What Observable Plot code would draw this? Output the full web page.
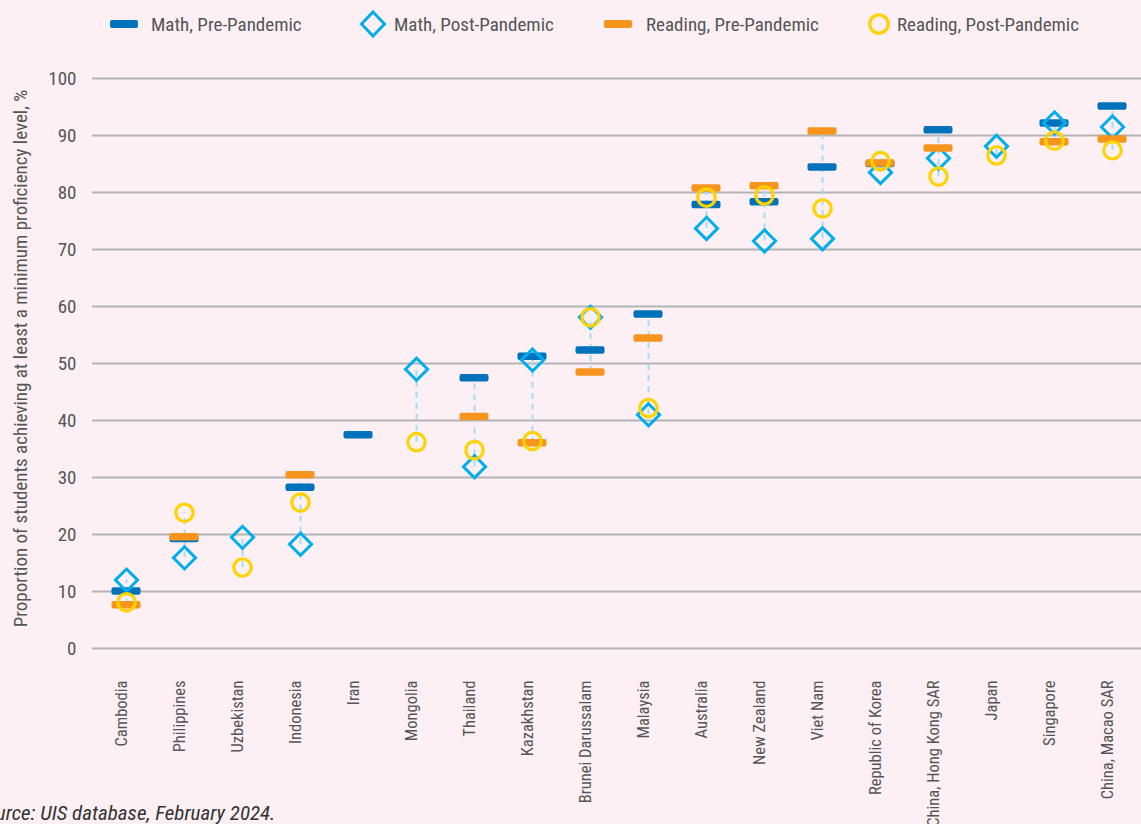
<!DOCTYPE html>
<html><head><meta charset="utf-8">
<script src="https://cdn.jsdelivr.net/npm/d3@7"></script>
<script src="https://cdn.jsdelivr.net/npm/@observablehq/plot@0.6"></script>
<style>
html,body{margin:0;padding:0;background:#fcf0f4;overflow:hidden;}
body{width:1141px;height:824px;position:relative;font-family:"Roboto Condensed",Roboto,sans-serif;font-stretch:condensed;}
.item{position:absolute;top:10px;height:28px;font-size:19px;color:#555;display:flex;align-items:center;white-space:nowrap;}
#chart{position:absolute;top:60px;left:0;}
#chart svg, #chart svg text{font-family:"Roboto Condensed",Roboto,sans-serif;font-stretch:condensed;}
#caption{position:absolute;left:-25px;top:803px;font-style:italic;font-size:21px;line-height:21px;color:#333;white-space:nowrap;}
</style></head>
<body>
<div id="legend"></div>
<div id="chart"></div>
<div id="caption">Source: UIS database, February 2024.</div>
<script>
const countries = ["Cambodia","Philippines","Uzbekistan","Indonesia","Iran","Mongolia","Thailand","Kazakhstan","Brunei Darussalam","Malaysia","Australia","New Zealand","Viet Nam","Republic of Korea","China, Hong Kong SAR","Japan","Singapore","China, Macao SAR"];
const mathPre  = [10.0, 19.2, null, 28.2, 37.4, null, 47.4, 51.2, 52.3, 58.6, 77.8, 78.3, 84.4, 85.0, 90.9, null, 92.1, 95.1];
const mathPost = [12.0, 15.9, 19.5, 18.3, null, 49.0, 31.9, 50.6, 58.1, 41.0, 73.7, 71.5, 71.9, 83.5, 86.0, 88.1, 92.2, 91.5];
const readPre  = [7.6, 19.5, null, 30.4, null, null, 40.6, 36.0, 48.4, 54.4, 80.7, 81.1, 90.7, 85.1, 87.7, null, 88.8, 89.3];
const readPost = [8.1, 23.8, 14.2, 25.6, null, 36.2, 34.8, 36.4, 58.1, 42.2, 79.1, 79.5, 77.2, 85.5, 82.8, 86.5, 89.1, 87.4];
const yTicks = [0,10,20,30,40,50,60,70,80,90,100];
const yTitle = "Proportion of students achieving at least a minimum proficiency level, %";
const seriesNames = ["Math, Pre-Pandemic","Math, Post-Pandemic","Reading, Pre-Pandemic","Reading, Post-Pandemic"];

const C = {mathPre:"#0072bc", mathPost:"#00aeef", readPre:"#f7941d", readPost:"#ffd200", dash:"#a6dcf5", grid:"#b3b3b3", text:"#555"};
const FONT = '"Roboto Condensed",Roboto,sans-serif';

const rows = arr => countries.map((c,i)=>({country:c, value:arr[i]})).filter(d=>d.value!=null);
const ranges = countries.map((c,i)=>{
  const v=[mathPre[i],mathPost[i],readPre[i],readPost[i]].filter(x=>x!=null);
  return {country:c, lo:d3.min(v), hi:d3.max(v)};
}).filter(d=>d.hi>d.lo);

const barOpts = {x:"country", y1:"value", y2:"value", insetTop:-3.75, insetBottom:-3.75, insetLeft:14.5, insetRight:14.5, rx:2};

const plot = Plot.plot({
  width:1141, height:764, marginTop:18, marginBottom:176, marginLeft:92, marginRight:-5,
  style:{background:"transparent", fontFamily:FONT, overflow:"visible"},
  x:{domain:countries, padding:0, axis:null},
  y:{domain:[0,100], axis:null},
  marks:[
    Plot.gridY(yTicks,{stroke:C.grid, strokeOpacity:1, strokeWidth:2}),
    Plot.axisY(yTicks,{tickSize:0, tickPadding:16, fontSize:19, fill:C.text, label:null}),
    Plot.text([yTitle],{frameAnchor:"left", textAnchor:"middle", dx:-72, dy:-5, rotate:-90, fontSize:19, fill:C.text}),
    Plot.text(countries,{x:d=>d, frameAnchor:"bottom", dy:32, rotate:-90, textAnchor:"end", fontSize:16.5, fill:C.text}),
    Plot.ruleX(ranges,{x:"country", y1:"lo", y2:"hi", stroke:C.dash, strokeWidth:2, strokeDasharray:"6,5"}),
    Plot.barY(rows(mathPre),{...barOpts, fill:C.mathPre}),
    Plot.dot(rows(mathPost),{x:"country", y:"value", symbol:"diamond2", r:10, stroke:C.mathPost, strokeWidth:3, fill:"none"}),
    Plot.barY(rows(readPre),{...barOpts, fill:C.readPre}),
    Plot.dot(rows(readPost),{x:"country", y:"value", symbol:"circle", r:8.7, stroke:C.readPost, strokeWidth:3.2, fill:"none"})
  ]
});
document.getElementById("chart").appendChild(plot);

// legend
const legendPos = [{m:109,t:151},{m:359,t:394},{m:603,t:646},{m:867,t:897}];
const markers = [
  `<svg width="30" height="28"><rect x="1" y="10" width="28" height="8" rx="2" fill="${C.mathPre}"/></svg>`,
  `<svg width="28" height="28"><path d="M14,2 L25.5,14 L14,26 L2.5,14 Z" fill="none" stroke="${C.mathPost}" stroke-width="3"/></svg>`,
  `<svg width="30" height="28"><rect x="1" y="10" width="28" height="8" rx="2" fill="${C.readPre}"/></svg>`,
  `<svg width="24" height="28"><circle cx="12" cy="14" r="9.2" fill="none" stroke="${C.readPost}" stroke-width="3.2"/></svg>`
];
const lg = document.getElementById("legend");
seriesNames.forEach((s,i)=>{
  const m=document.createElement("div"); m.className="item"; m.style.left=legendPos[i].m+"px"; m.innerHTML=markers[i]; lg.appendChild(m);
  const t=document.createElement("div"); t.className="item"; t.style.left=legendPos[i].t+"px"; t.textContent=s; lg.appendChild(t);
});
</script>
</body></html>
